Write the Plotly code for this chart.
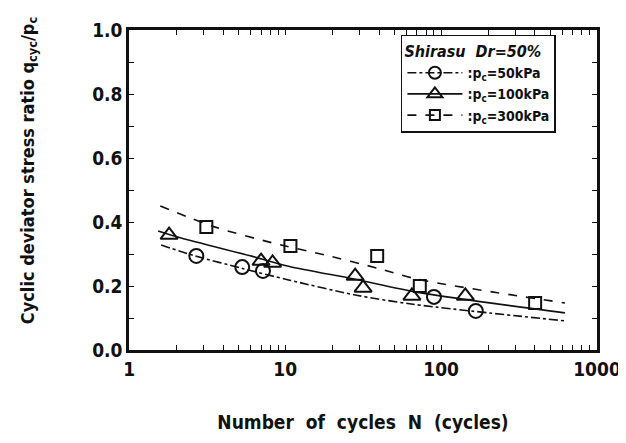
import plotly.graph_objects as go

# ---------------- data ----------------
# measured points
n_50 = [2.69, 5.3, 7.2, 90, 167]
r_50 = [0.294, 0.259, 0.247, 0.166, 0.122]

n_100 = [1.80, 7.0, 8.3, 28.1, 31.6, 65, 143]
r_100 = [0.359, 0.278, 0.272, 0.231, 0.194, 0.169, 0.169]

n_300 = [3.12, 10.8, 38.9, 73, 401]
r_300 = [0.384, 0.325, 0.294, 0.200, 0.147]

# fitted curves
cn_50 = [1.6, 2.65, 5.2, 10.5, 28.1, 66, 623]
cr_50 = [0.328, 0.294, 0.256, 0.219, 0.172, 0.143, 0.091]

cn_100 = [1.53, 2.15, 5.8, 10.5, 28.1, 71, 623]
cr_100 = [0.372, 0.350, 0.296, 0.262, 0.221, 0.180, 0.116]

cn_300 = [1.58, 3.56, 9.4, 18.0, 39.5, 71, 623]
cr_300 = [0.450, 0.384, 0.328, 0.297, 0.255, 0.221, 0.147]

x_tickvals = [1, 10, 100, 1000]
x_ticktext = ["1", "10", "100", "1000"]
y_tickvals = [0.0, 0.2, 0.4, 0.6, 0.8, 1.0]
y_ticktext = ["0.0", "0.2", "0.4", "0.6", "0.8", "1.0"]

legend_names = [":p<sub>c</sub>=50kPa", ":p<sub>c</sub>=100kPa", ":p<sub>c</sub>=300kPa"]
legend_title = "<i>Shirasu  Dr=50%</i>"

FONT = "DejaVu Sans Condensed, Liberation Sans Narrow, sans-serif"
BLACK = "#111111"

fig = go.Figure()

series = [
    (cn_50, cr_50, n_50, r_50, "dashdot", "circle-open", 14, legend_names[0]),
    (cn_100, cr_100, n_100, r_100, "solid", "triangle-up-open", 15, legend_names[1]),
    (cn_300, cr_300, n_300, r_300, "dash", "square-open", 12, legend_names[2]),
]

for cx, cy, px, py, dash, sym, size, name in series:
    fig.add_trace(go.Scatter(
        x=cx, y=cy, mode="lines",
        line=dict(color=BLACK, width=1.6, dash=dash, shape="spline", smoothing=0.8),
        showlegend=False, hoverinfo="skip"))
    fig.add_trace(go.Scatter(
        x=px, y=py, mode="markers",
        marker=dict(symbol=sym, size=size, color=BLACK, line=dict(width=2, color=BLACK)),
        showlegend=False))
    # legend sample (line + marker)
    fig.add_trace(go.Scatter(
        x=[None], y=[None], mode="lines+markers", name=name,
        line=dict(color=BLACK, width=1.6, dash=dash),
        marker=dict(symbol=sym, size=size - 2, color=BLACK, line=dict(width=2, color=BLACK))))

fig.update_layout(
    width=626, height=443,
    margin=dict(l=121, r=37, t=22, b=101),
    paper_bgcolor="white", plot_bgcolor="white",
    font=dict(family=FONT, color=BLACK, size=18, weight="bold"),
    showlegend=True,
    legend=dict(
        x=0.581, y=0.985, xanchor="left", yanchor="top",
        bordercolor=BLACK, borderwidth=1.5, bgcolor="white",
        font=dict(family=FONT, size=14, color=BLACK, weight="bold"),
        title=dict(text=legend_title, font=dict(family=FONT, size=16, color=BLACK, weight="bold"), side="top"),
        tracegroupgap=0, itemwidth=55,
    ),
    xaxis=dict(
        type="log", range=[-0.002, 3.0],
        tickvals=x_tickvals, ticktext=x_ticktext,
        ticks="inside", ticklen=5, tickwidth=1.2, tickcolor=BLACK,
        minor=dict(ticks="inside", ticklen=5, tickwidth=1, tickcolor=BLACK, dtick="D1", showgrid=False),
        showline=True, linecolor=BLACK, linewidth=2.5, mirror="ticks",
        showgrid=False, zeroline=False,
        tickfont=dict(size=19, family=FONT, weight="bold"),
        title=dict(text="Number  of  cycles  N  (cycles)", font=dict(size=19, family=FONT, weight="bold"), standoff=38),
    ),
    yaxis=dict(
        range=[0, 1.0],
        tickvals=y_tickvals, ticktext=y_ticktext,
        ticks="inside", ticklen=5, tickwidth=1.2, tickcolor=BLACK,
        minor=dict(ticks="inside", ticklen=5, tickwidth=1, tickcolor=BLACK, dtick=0.1, showgrid=False),
        showline=True, linecolor=BLACK, linewidth=2.5, mirror="ticks",
        showgrid=False, zeroline=False,
        tickfont=dict(size=19, family=FONT, weight="bold"),
    ),
    annotations=[dict(
        text="Cyclic deviator stress ratio q<sub>cyc</sub>/p<sub>c</sub>",
        xref="paper", yref="paper", x=-0.215, y=0.56,
        xanchor="center", yanchor="middle", textangle=-90, showarrow=False,
        font=dict(size=18, family=FONT, color=BLACK, weight="bold"))],
)

fig.write_html("out.html")
